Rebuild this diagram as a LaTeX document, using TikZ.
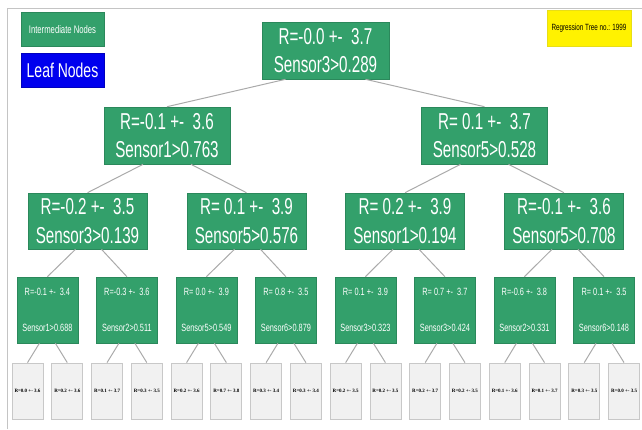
\documentclass[tikz,border=0pt]{standalone}
\usepackage{fontspec}
\newfontfamily\nf[FakeStretch=0.7]{Liberation Sans}
\newfontfamily\bigfnt[FakeStretch=0.66]{Liberation Sans}
\newfontfamily\lfont{Liberation Serif}
\definecolor{nodegreen}{HTML}{33A06B}
\definecolor{leafblue}{HTML}{0000EE}
\definecolor{edgegray}{HTML}{AAAAAA}
\definecolor{leaffill}{HTML}{F1F1F1}
\definecolor{leafline}{HTML}{C8C8C8}
\definecolor{framegray}{HTML}{C4C4C4}
\tikzset{
  inner/.style={fill=nodegreen, draw=nodegreen!85!black, line width=0.6pt, text=white, inner sep=0pt, align=center},
  bigbox/.style={inner, minimum height=57pt, font=\bigfnt\fontsize{23}{28.5}\selectfont},
  l2box/.style={bigbox, minimum width=126pt},
  l3box/.style={bigbox, minimum width=119pt, minimum height=56pt},
  l4box/.style={inner, minimum width=61pt, minimum height=66pt, font=\nf\fontsize{10.5}{36}\selectfont},
  leafbox/.style={fill=leaffill, draw=leafline, line width=0.8pt, minimum width=31pt, minimum height=56pt, inner sep=0pt, font=\lfont\bfseries\fontsize{5}{6}\selectfont},
  edge/.style={draw=edgegray, line width=1pt}
}
\begin{document}
\begin{tikzpicture}[x=1pt,y=-1pt]
\useasboundingbox (0,0) rectangle (642,429);
\draw[framegray, line width=0.8pt] (7,429) -- (7,8) -- (642,8);

% legend
\node[inner, minimum width=83pt, minimum height=34pt, font=\nf\fontsize{11}{13}\selectfont] (legi) at (62.5,29.5) {Intermediate Nodes};
\node[fill=leafblue, draw=leafblue!80!black, text=white, inner sep=0pt, minimum width=83pt, minimum height=34pt, font=\nf\fontsize{20}{24}\selectfont] (legl) at (62.5,70) {Leaf Nodes};
\node[fill=yellow, draw=yellow!90!black, inner sep=0pt, minimum width=84pt, minimum height=36pt, font=\nf\fontsize{9}{11}\selectfont] (title) at (589,28) {Regression Tree no.: 1999};

% tree
\node[bigbox, minimum width=127pt] (root) at (325.5,50.5) {R=-0.0 +-\ \ 3.7\\Sensor3>0.289};
\node[l2box] (a) at (167,135.5) {R=-0.1 +-\ \ 3.6\\Sensor1>0.763};
\node[l2box] (b) at (484.5,135.5) {R=\ 0.1 +-\ \ 3.7\\Sensor5>0.528};

\node[l3box] (aa) at (87.5,221) {R=-0.2 +-\ \ 3.5\\Sensor3>0.139};
\node[l3box] (ab) at (246.5,221) {R=\ 0.1 +-\ \ 3.9\\Sensor5>0.576};
\node[l3box] (ba) at (405,221) {R=\ 0.2 +-\ \ 3.9\\Sensor1>0.194};
\node[l3box] (bb) at (564,221) {R=-0.1 +-\ \ 3.6\\Sensor5>0.708};

\node[l4box] (c0) at (47.4,310) {R=-0.1 +-\ \ 3.4\\Sensor1>0.688};
\node[l4box] (c1) at (126.9,310) {R=-0.3 +-\ \ 3.6\\Sensor2>0.511};
\node[l4box] (c2) at (206.4,310) {R=\ 0.0 +-\ \ 3.9\\Sensor5>0.549};
\node[l4box] (c3) at (285.9,310) {R=\ 0.8 +-\ \ 3.5\\Sensor6>0.879};
\node[l4box] (c4) at (365.4,310) {R=\ 0.1 +-\ \ 3.9\\Sensor3>0.323};
\node[l4box] (c5) at (444.9,310) {R=\ 0.7 +-\ \ 3.7\\Sensor3>0.424};
\node[l4box] (c6) at (524.4,310) {R=-0.6 +-\ \ 3.8\\Sensor2>0.331};
\node[l4box] (c7) at (604,310) {R=\ 0.1 +-\ \ 3.5\\Sensor6>0.148};

\foreach \t [count=\i from 0] in {R=0.0 +- 3.6,R=0.2 +- 3.6,R=0.1 +- 3.7,R=0.3 +- 3.5,R=0.2 +- 3.6,R=0.7 +- 3.8,R=0.3 +- 3.4,R=0.3 +- 3.4,R=0.2 +- 3.5,R=0.2 +- 3.5,R=0.2 +- 3.7,R=0.2 +- 3.5,R=0.1 +- 3.6,R=0.1 +- 3.7,R=0.3 +- 3.5,R=0.0 +- 3.5}
  \node[leafbox] (lf\i) at ({27.5+39.77*\i},391) {\t};

% edges
\draw[edge] ([xshift=-40pt]root.south) -- (a.north);
\draw[edge] ([xshift=40pt]root.south) -- (b.north);
\draw[edge] ([xshift=-24pt]a.south) -- (aa.north);
\draw[edge] ([xshift=24pt]a.south) -- (ab.north);
\draw[edge] ([xshift=-24pt]b.south) -- (ba.north);
\draw[edge] ([xshift=24pt]b.south) -- (bb.north);
\draw[edge] ([xshift=-12pt]aa.south) -- (c0.north);
\draw[edge] ([xshift=14pt]aa.south) -- (c1.north);
\draw[edge] ([xshift=-12pt]ab.south) -- (c2.north);
\draw[edge] ([xshift=14pt]ab.south) -- (c3.north);
\draw[edge] ([xshift=-12pt]ba.south) -- (c4.north);
\draw[edge] ([xshift=14pt]ba.south) -- (c5.north);
\draw[edge] ([xshift=-12pt]bb.south) -- (c6.north);
\draw[edge] ([xshift=14pt]bb.south) -- (c7.north);
\foreach \k [evaluate=\k as \l using int(2*\k), evaluate=\k as \r using int(2*\k+1)] in {0,...,7} {
  \draw[edge] ([xshift=-8pt]c\k.south) -- (lf\l.north);
  \draw[edge] ([xshift=8pt]c\k.south) -- (lf\r.north);
}
\end{tikzpicture}
\end{document}
